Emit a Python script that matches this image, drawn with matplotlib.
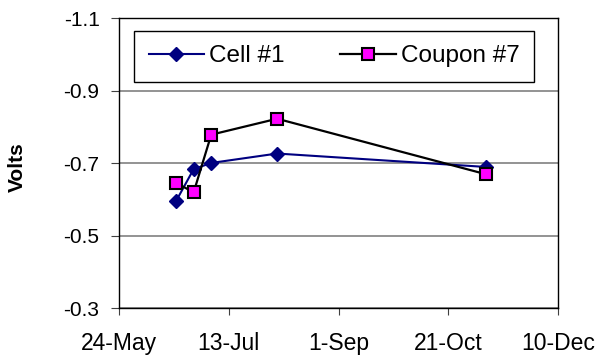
import matplotlib
matplotlib.use('Agg')
import matplotlib.pyplot as plt
import pandas as pd

plt.rcParams['font.family'] = ['Liberation Sans', 'DejaVu Sans']

# measurement dates and potentials (V)
dates = ['2003-06-19', '2003-06-27', '2003-07-05', '2003-08-04', '2003-11-07']
cell_1 = [-0.596, -0.684, -0.701, -0.727, -0.690]
coupon_7 = [-0.646, -0.620, -0.779, -0.823, -0.670]

tick_labels = ['24-May', '13-Jul', '1-Sep', '21-Oct', '10-Dec']
y_ticks = [-1.1, -0.9, -0.7, -0.5, -0.3]

x = pd.to_datetime(dates)
tick_pos = pd.to_datetime([f'{t}-2003' for t in tick_labels], format='%d-%b-%Y')

fig = plt.figure(figsize=(6.0, 3.58), dpi=100)
ax = fig.add_axes([0.1983, 0.1388, 0.7322, 0.81])

ax.plot(x, cell_1, color='#000080', lw=1.5, marker='D', ms=7,
        mfc='#000080', mec='#000080', label='Cell #1', zorder=3)
ax.plot(x, coupon_7, color='black', lw=1.6, marker='s', ms=8.5,
        mfc='#FF00FF', mec='black', mew=1.5, label='Coupon #7', zorder=4)

ax.set_xlim(tick_pos[0], tick_pos[-1])
ax.set_xticks(tick_pos)
ax.set_xticklabels(tick_labels)

ax.set_ylim(-0.3, -1.1)
ax.set_yticks(y_ticks)
ax.set_yticklabels([f'{v:.1f}' for v in y_ticks])
ax.yaxis.grid(True, color='#808080', lw=1.2)
ax.set_axisbelow(True)

ax.tick_params(axis='both', direction='out', color='#404040',
               labelcolor='black')
ax.tick_params(axis='x', labelsize=16.5, length=5, pad=12)
ax.tick_params(axis='y', labelsize=15, length=6, pad=8)
for s in ax.spines.values():
    s.set_color('black')
    s.set_linewidth(1.0)

ax.set_ylabel('Volts', fontsize=15, fontweight='bold')
ax.yaxis.set_label_coords(-0.21, 0.487)

leg = ax.legend(loc='upper center', ncol=2, fontsize=17.5,
                bbox_to_anchor=(0.034, 0.773, 0.911, 0.184), mode='expand',
                fancybox=False, framealpha=1, edgecolor='black',
                handlelength=2.3, handletextpad=0.2, columnspacing=1.5,
                borderaxespad=0, borderpad=0.6)
leg.get_frame().set_linewidth(1.0)

fig.savefig('out.png', dpi=100)
